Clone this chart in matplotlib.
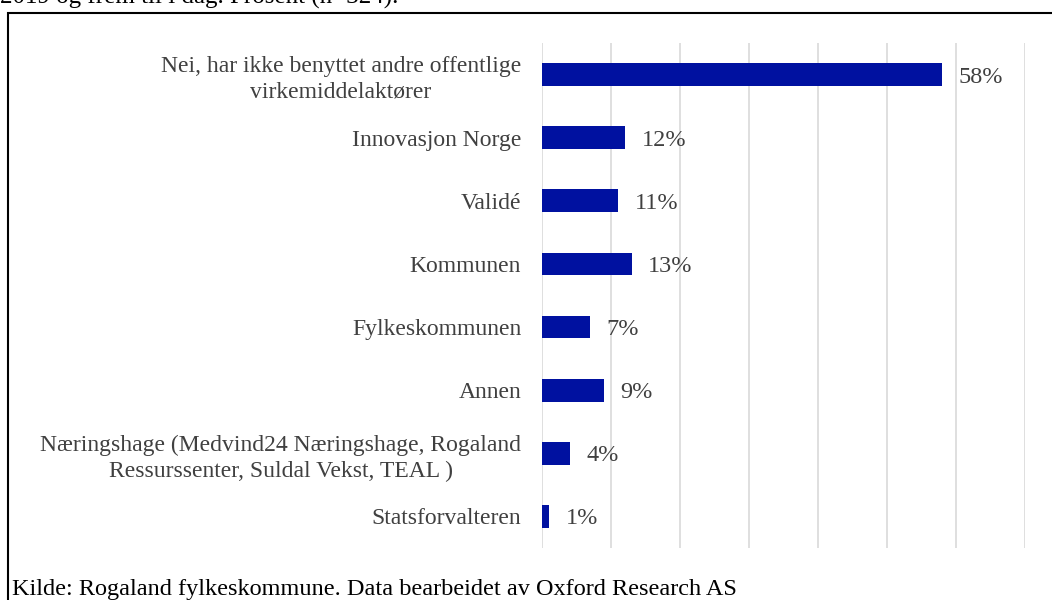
import matplotlib.pyplot as plt
from matplotlib.patches import Rectangle

# data
kategorier = [
    "Nei, har ikke benyttet andre offentlige\nvirkemiddelaktører",
    "Innovasjon Norge",
    "Validé",
    "Kommunen",
    "Fylkeskommunen",
    "Annen",
    "Næringshage (Medvind24 Næringshage, Rogaland\nRessurssenter, Suldal Vekst, TEAL )",
    "Statsforvalteren",
]
prosent = [58, 12, 11, 13, 7, 9, 4, 1]
x_ticks = [0, 10, 20, 30, 40, 50, 60, 70]

plt.rcParams['font.family'] = ['Liberation Serif', 'DejaVu Serif']

fig = plt.figure(figsize=(10.52, 6), dpi=100)
ax = fig.add_axes([542 / 1052, 52 / 600, (1025 - 542) / 1052, (557 - 52) / 600])

pos = list(range(len(kategorier)))
ax.barh(pos, prosent, height=0.36, color='#0011A0', zorder=3)
for p, v in zip(pos, prosent):
    ax.text(v + 2.4, p, f"{v}%", va='center_baseline', ha='left', fontsize=17.5, color='#404040')

ax.set_xlim(0, 70)
ax.set_ylim(7.5, -0.5)
ax.set_xticks(x_ticks)
ax.xaxis.grid(True, color='#d9d9d9', linewidth=1.2, zorder=0)
ax.set_xticklabels([])
ax.tick_params(axis='x', length=0)
ax.tick_params(axis='y', length=0, pad=15)
ax.set_yticks(pos)
ax.set_yticklabels(kategorier, fontsize=17, color='#404040', multialignment='center',
                   linespacing=1.3)
for s in ax.spines.values():
    s.set_visible(False)

# ramme rundt figuren
fig.patches.append(Rectangle((8 / 1052, -0.1), 1.2, 1 - 13 / 600 + 0.1, transform=fig.transFigure,
                             fill=False, edgecolor='black', linewidth=1.5))

fig.text(0, 1 - 4 / 600, "2019 og frem til i dag. Prosent (n=324).", fontsize=18,
         va='baseline', ha='left', color='black')
fig.text(12 / 1052, 1 - 595 / 600, "Kilde: Rogaland fylkeskommune. Data bearbeidet av Oxford Research AS",
         fontsize=17.5, va='baseline', ha='left', color='black')

fig.savefig("out.png", dpi=100)
